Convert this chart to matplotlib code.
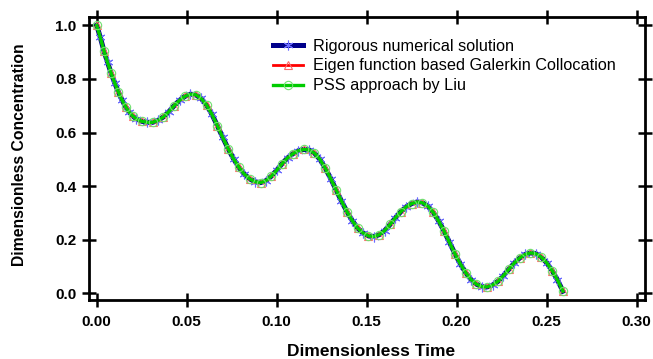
import numpy as np
import matplotlib
matplotlib.use('Agg')
import matplotlib.pyplot as plt

# Values
time = [0.000, 0.002, 0.004, 0.006, 0.008, 0.010, 0.012, 0.014, 0.016, 0.018,
        0.020, 0.022, 0.025, 0.028, 0.031, 0.034, 0.037, 0.040, 0.043, 0.046,
        0.049, 0.052, 0.055, 0.058, 0.061, 0.064, 0.067, 0.070, 0.073, 0.076,
        0.079, 0.082, 0.085, 0.088, 0.091, 0.094, 0.097, 0.100, 0.103, 0.106,
        0.109, 0.112, 0.115, 0.118, 0.121, 0.124, 0.127, 0.130, 0.133, 0.136,
        0.139, 0.142, 0.145, 0.148, 0.151, 0.154, 0.157, 0.160, 0.163, 0.166,
        0.169, 0.172, 0.175, 0.178, 0.181, 0.184, 0.187, 0.190, 0.193, 0.196,
        0.199, 0.202, 0.205, 0.208, 0.211, 0.214, 0.217, 0.220, 0.223, 0.226,
        0.229, 0.232, 0.235, 0.238, 0.241, 0.244, 0.247, 0.250, 0.253, 0.256,
        0.259]

rigorous = [1.000, 0.955, 0.905, 0.862, 0.822, 0.785, 0.752, 0.722, 0.697, 0.677,
            0.662, 0.651, 0.642, 0.638, 0.638, 0.645, 0.658, 0.677, 0.700, 0.720,
            0.735, 0.743, 0.741, 0.727, 0.703, 0.668, 0.626, 0.582, 0.540, 0.502,
            0.470, 0.445, 0.427, 0.416, 0.413, 0.420, 0.437, 0.459, 0.484, 0.505,
            0.521, 0.532, 0.537, 0.535, 0.523, 0.500, 0.467, 0.428, 0.386, 0.344,
            0.305, 0.271, 0.243, 0.225, 0.214, 0.212, 0.219, 0.234, 0.257, 0.282,
            0.305, 0.323, 0.335, 0.341, 0.338, 0.325, 0.302, 0.270, 0.232, 0.190,
            0.148, 0.110, 0.077, 0.051, 0.034, 0.025, 0.024, 0.031, 0.045, 0.066,
            0.090, 0.113, 0.132, 0.145, 0.151, 0.148, 0.135, 0.114, 0.085, 0.050,
            0.008]

# the three solutions overlap within the line width
galerkin = list(rigorous)
pss_liu = list(rigorous)

labels = ['Rigorous numerical solution',
          'Eigen function based Galerkin Collocation',
          'PSS approach by Liu']

plt.rcParams['font.family'] = ['Liberation Sans', 'DejaVu Sans']

fig = plt.figure(figsize=(6.53, 3.59), dpi=100)
ax = fig.add_axes([0.1363, 0.1643, 0.8514, 0.7883])

ax.plot(time, rigorous, color='#00008b', lw=3.6, marker=(6, 2, 0), ms=7,
        mec='#6b6bff', mew=0.8, markevery=(1, 2), label=labels[0], zorder=3)
ax.plot(time, galerkin, color='#ff0000', lw=2.0, marker='^', ms=6,
        mfc='none', mec='#ff6a6a', mew=0.8, markevery=(0, 2), label=labels[1], zorder=4)
ax.plot(time, pss_liu, color='#00cc00', lw=2.4, marker='o', ms=6,
        mfc='none', mec='#70e070', mew=0.8, markevery=(0, 2), label=labels[2], zorder=5)

ax.set_xlim(-0.00428, 0.3046)
ax.set_ylim(-0.025, 1.031)
ax.set_xticks(np.arange(0, 0.31, 0.05))
ax.set_yticks(np.arange(0, 1.01, 0.2))
ax.set_xticklabels([f'{v:.2f}' for v in np.arange(0, 0.31, 0.05)])
ax.set_yticklabels([f'{v:.1f}' for v in np.arange(0, 1.01, 0.2)])

for s in ax.spines.values():
    s.set_linewidth(2.0)
ax.tick_params(direction='inout', length=10, width=1.8, top=True, right=True,
               labelsize=11)
ax.tick_params(axis='x', pad=6)
ax.tick_params(axis='y', pad=4)
for lab in ax.get_xticklabels() + ax.get_yticklabels():
    lab.set_fontweight('bold')

ax.set_xlabel('Dimensionless Time', fontsize=12.5, fontweight='bold')
ax.xaxis.set_label_coords(0.507, -0.156)
ax.set_ylabel('Dimensionless Concentration', fontsize=11.3, fontweight='bold')
ax.yaxis.set_label_coords(-0.111, 0.515)

ax.legend(loc='upper left', bbox_to_anchor=(0.331, 0.924), frameon=False,
          fontsize=11.7, handlelength=1.85, handletextpad=0.6, labelspacing=0.3,
          borderaxespad=0, borderpad=0)

fig.savefig('out.png', dpi=100)
